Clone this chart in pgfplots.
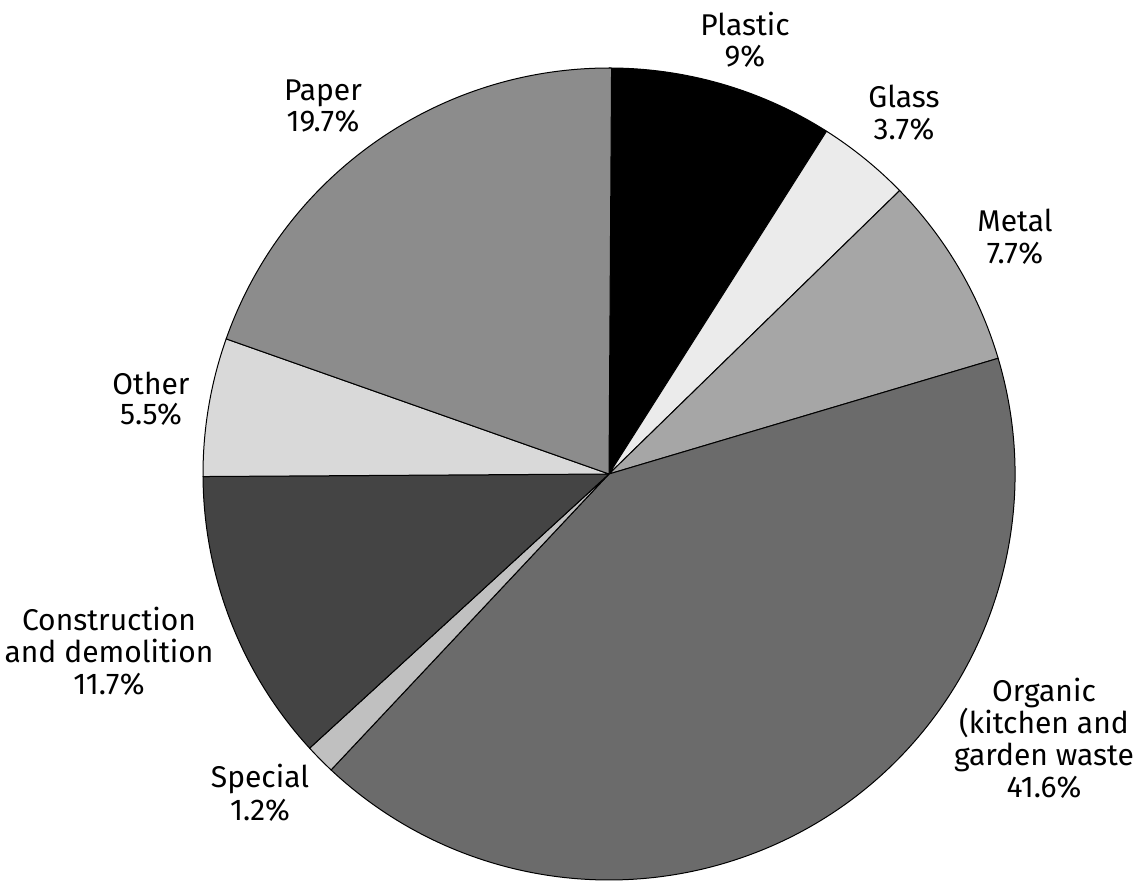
\documentclass[border=0pt]{standalone}
\usepackage{pgfplots}
\pgfplotsset{compat=1.18}
\usepackage{fontspec}
\setmainfont{Fira Sans}
% slice: start (cumulative %), value (%), colour
\newcommand\slice[3]{%
  \filldraw[fill=#3, draw=black, line width=0.5pt, line join=round]
    (axis cs:609,474) -- ++({90-3.6*#1}:203pt)
    arc[start angle={90-3.6*#1}, end angle={90-3.6*(#1+#2)}, radius=203pt] -- cycle;}
\newcommand\lab[3]{\node[anchor=base, inner sep=0pt, font=\fontsize{15pt}{16pt}\selectfont] at (axis cs:#1,#2) {#3};}
\definecolor{cPlastic}{HTML}{000000}
\definecolor{cGlass}{HTML}{EBEBEB}
\definecolor{cMetal}{HTML}{A6A6A6}
\definecolor{cOrganic}{HTML}{6B6B6B}
\definecolor{cSpecial}{HTML}{C0C0C0}
\definecolor{cConstr}{HTML}{444444}
\definecolor{cOther}{HTML}{D9D9D9}
\definecolor{cPaper}{HTML}{8C8C8C}
\begin{document}
\begin{tikzpicture}
\begin{axis}[
  width=568.5pt, height=440.5pt, scale only axis,
  xmin=0, xmax=1137, ymin=0, ymax=881, y dir=reverse,
  hide axis, clip=false]
% values (%): Plastic 9, Glass 3.7, Metal 7.7, Organic 41.6, Special 1.2,
% Construction 11.7, Other 5.5, Paper 19.7
\slice{0}{9}{cPlastic}
\slice{9}{3.7}{cGlass}
\slice{12.7}{7.7}{cMetal}
\slice{20.4}{41.6}{cOrganic}
\slice{62.0}{1.2}{cSpecial}
\slice{63.2}{11.7}{cConstr}
\slice{74.9}{5.5}{cOther}
\slice{80.4}{19.7}{cPaper}
\lab{745}{36}{Plastic}
\lab{745}{67}{9\%}
\lab{904}{108}{Glass}
\lab{904}{140}{3.7\%}
\lab{1015}{232}{Metal}
\lab{1015}{264}{7.7\%}
\lab{1044}{702}{Organic}
\lab{1044}{734}{(kitchen and}
\lab{1044}{766}{garden waste}
\lab{1044}{798}{41.6\%}
\lab{260}{788}{Special}
\lab{260}{821}{1.2\%}
\lab{109}{631}{Construction}
\lab{109}{663}{and demolition}
\lab{109}{695}{11.7\%}
\lab{151}{395}{Other}
\lab{151}{425}{5.5\%}
\lab{323}{101}{Paper}
\lab{323}{132}{19.7\%}
\coordinate (BL) at (axis cs:0,881);
\coordinate (TR) at (axis cs:1137,0);
\end{axis}
\pgfresetboundingbox
\path (BL) rectangle (TR);
\end{tikzpicture}
\end{document}
